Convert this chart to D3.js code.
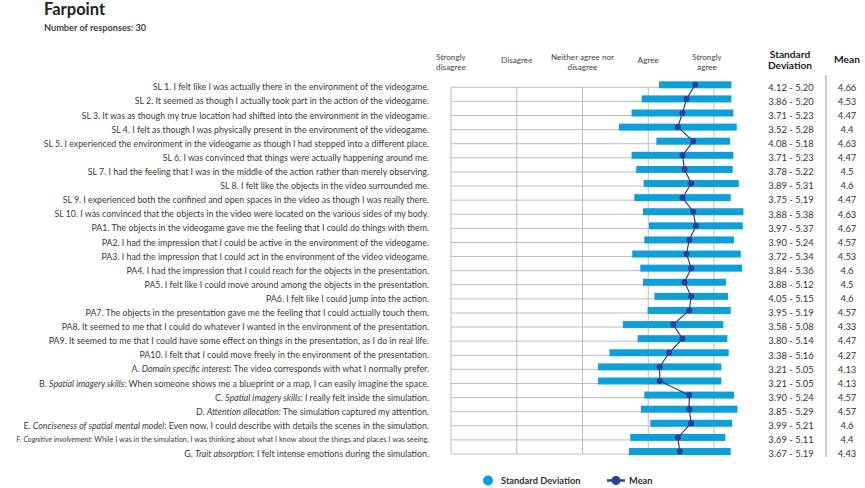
<!DOCTYPE html>
<html>
<head>
<meta charset="utf-8">
<script src="https://cdn.jsdelivr.net/npm/d3@7/dist/d3.min.js"></script>
<style>
  html, body { margin: 0; padding: 0; background: #fff; }
  svg { display: block; font-family: Lato, "Open Sans", sans-serif; }
</style>
</head>
<body>
<svg id="chart" width="865" height="488"></svg>
<script>
// ---------- DATA ----------
const title = "Farpoint";
const subtitle = "Number of responses: 30";
const scaleLabels = [["Strongly", "disagree"], ["Disagree"], ["Neither agree nor", "disagree"], ["Agree"], ["Strongly", "agree"]];
const scaleValues = [1, 2, 3, 4, 5];

const items = [
  "SL 1. I felt like I was actually there in the environment of the videogame.",
  "SL 2. It seemed as though I actually took part in the action of the videogame.",
  "SL 3. It was as though my true location had shifted into the environment in the videogame.",
  "SL 4. I felt as though I was physically present in the environment of the videogame.",
  "SL 5. I experienced the environment in the videogame as though I had stepped into a different place.",
  "SL 6. I was convinced that things were actually happening around me.",
  "SL 7. I had the feeling that I was in the middle of the action rather than merely observing.",
  "SL 8. I felt like the objects in the video  surrounded me.",
  "SL 9. I experienced both the confined and open spaces in the video as though I was really there.",
  "SL 10. I was convinced that the objects in the video were located on the various sides of my body.",
  "PA1. The objects in the videogame gave me the feeling that I could do things with them.",
  "PA2. I had the impression that I could be active in the environment of the videogame.",
  "PA3. I had the impression that I could act in the environment of the video videogame.",
  "PA4. I had the impression that I could reach for the objects in the presentation.",
  "PA5. I felt like I could move around among the objects in the presentation.",
  "PA6. I felt like I could jump into the action.",
  "PA7. The objects in the presentation gave me the feeling that I could actually touch them.",
  "PA8. It seemed to me that I could do whatever I wanted in the environment of the presentation.",
  "PA9. It seemed to me that I could have some effect on things in the presentation, as I do in real life.",
  "PA10. I felt that I could move freely in the environment of the presentation.",
  "A. *Domain specific interest*: The video corresponds with what I normally prefer.",
  "B. *Spatial imagery skills*: When someone shows me a blueprint or a map, I can easily imagine the space.",
  "C. *Spatial imagery skills:* I really felt inside the simulation.",
  "D. *Attention allocation:* The simulation captured my attention.",
  "E. *Conciseness of spatial mental model*: Even now, I could describe with details the scenes in the simulation.",
  "F. *Cognitive involvement*: While I was in the simulation, I was thinking about what I know about the things and places I was seeing.",
  "G. *Trait absorption*: I felt intense emotions during the simulation."
];
const sdLow  = [4.12, 3.86, 3.71, 3.52, 4.08, 3.71, 3.78, 3.89, 3.75, 3.88, 3.97, 3.90, 3.72, 3.84, 3.88, 4.05, 3.95, 3.58, 3.80, 3.38, 3.21, 3.21, 3.90, 3.85, 3.99, 3.69, 3.67];
const sdHigh = [5.20, 5.20, 5.23, 5.28, 5.18, 5.23, 5.22, 5.31, 5.19, 5.38, 5.37, 5.24, 5.34, 5.36, 5.12, 5.15, 5.19, 5.08, 5.14, 5.16, 5.05, 5.05, 5.24, 5.29, 5.21, 5.11, 5.19];
const means  = [4.66, 4.53, 4.47, 4.4, 4.63, 4.47, 4.5, 4.6, 4.47, 4.63, 4.67, 4.57, 4.53, 4.6, 4.5, 4.6, 4.57, 4.33, 4.47, 4.27, 4.13, 4.13, 4.57, 4.57, 4.6, 4.4, 4.43];
const smallLabelRows = [25];

// ---------- LAYOUT ----------
const svg = d3.select("#chart");
const barColor = "#0c9fda";
const meanColor = "#2a3f90";
const gridColor = "#bdbdbd";
const textColor = "#333";

const rows = d3.range(items.length);
const y = d3.scalePoint().domain(rows).range([87.3, 454]);
const x = d3.scaleLinear().domain([1, 5]).range([450, 718]);
const xg = d3.scalePoint().domain(scaleValues).range([451, 714]);

// title
svg.append("text").attr("x", 44).attr("y", 15).attr("font-size", 16.5).attr("font-weight", 700)
  .attr("fill", "#222").text(title);
svg.append("text").attr("x", 44).attr("y", 31).attr("font-size", 9.2).attr("font-weight", 700)
  .attr("fill", "#444").text(subtitle);

// grid
const grid = svg.append("g");
grid.selectAll("line.h").data(rows).join("line")
  .attr("x1", xg(1)).attr("x2", xg(5))
  .attr("y1", d => y(d)).attr("y2", d => y(d))
  .attr("stroke", gridColor).attr("stroke-width", 1);
grid.selectAll("line.v").data(scaleValues).join("line")
  .attr("x1", d => xg(d)).attr("x2", d => xg(d))
  .attr("y1", y(0)).attr("y2", y(rows.length - 1))
  .attr("stroke", gridColor).attr("stroke-width", 1);

// scale headers
const hdr = svg.append("g").attr("font-size", 8.2).attr("fill", "#444").attr("text-anchor", "middle");
scaleValues.forEach((v, i) => {
  const lines = scaleLabels[i];
  const cx = xg(v) + (i === 4 ? -7 : 0);
  lines.forEach((t, j) => {
    const yy = lines.length === 1 ? 63 : 60 + j * 10;
    hdr.append("text").attr("x", cx).attr("y", yy).text(t);
  });
});

// column headers
const ch = svg.append("g").attr("font-size", 10.2).attr("font-weight", 700).attr("fill", "#222").attr("text-anchor", "middle");
ch.append("text").attr("x", 790).attr("y", 58).text("Standard");
ch.append("text").attr("x", 790).attr("y", 69).text("Deviation");
ch.append("text").attr("x", 847).attr("y", 63).text("Mean");

// separator
svg.append("line").attr("x1", 826).attr("x2", 826).attr("y1", 75).attr("y2", 457)
  .attr("stroke", "#999").attr("stroke-width", 1);

// labels
const lab = svg.append("g").attr("text-anchor", "end").attr("fill", "#3a3a3a");
items.forEach((s, i) => {
  const t = lab.append("text").attr("x", 429).attr("y", y(i)).attr("dy", "0.35em")
    .attr("font-size", smallLabelRows.includes(i) ? 7.35 : 8.8);
  s.split("*").forEach((part, k) => {
    if (!part) return;
    t.append("tspan").attr("font-style", k % 2 ? "italic" : "normal").text(part);
  });
});

// bars
const barH = 7;
svg.append("g").selectAll("rect").data(rows).join("rect")
  .attr("x", d => x(sdLow[d]))
  .attr("width", d => x(sdHigh[d]) - x(sdLow[d]))
  .attr("y", d => y(d) - 2.5 - barH / 2)
  .attr("height", barH)
  .attr("fill", barColor);

// mean line
const line = d3.line().x(d => x(means[d])).y(d => y(d) - 2.5);
svg.append("path").datum(rows).attr("d", line).attr("fill", "none")
  .attr("stroke", meanColor).attr("stroke-width", 1.2);
svg.append("g").selectAll("circle").data(rows).join("circle")
  .attr("cx", d => x(means[d])).attr("cy", d => y(d) - 2.5).attr("r", 3)
  .attr("fill", meanColor);

// right columns
const rc = svg.append("g").attr("font-size", 9.4).attr("fill", textColor).attr("text-anchor", "middle");
rows.forEach(i => {
  rc.append("text").attr("x", 791).attr("y", y(i)).attr("dy", "0.35em")
    .text(d3.format(".2f")(sdLow[i]) + " - " + d3.format(".2f")(sdHigh[i]));
  rc.append("text").attr("x", 847).attr("y", y(i)).attr("dy", "0.35em").text(String(means[i]));
});

// legend
const lg = svg.append("g").attr("font-size", 9.3).attr("font-weight", 700).attr("fill", "#333");
lg.append("circle").attr("cx", 488).attr("cy", 480.5).attr("r", 5).attr("fill", barColor);
lg.append("text").attr("x", 501).attr("y", 480.5).attr("dy", "0.35em").text("Standard Deviation");
lg.append("line").attr("x1", 607).attr("x2", 625).attr("y1", 480.5).attr("y2", 480.5)
  .attr("stroke", meanColor).attr("stroke-width", 2.5);
lg.append("circle").attr("cx", 616).attr("cy", 480.5).attr("r", 4.5).attr("fill", meanColor);
lg.append("text").attr("x", 629).attr("y", 480.5).attr("dy", "0.35em").text("Mean");
</script>
</body>
</html>
